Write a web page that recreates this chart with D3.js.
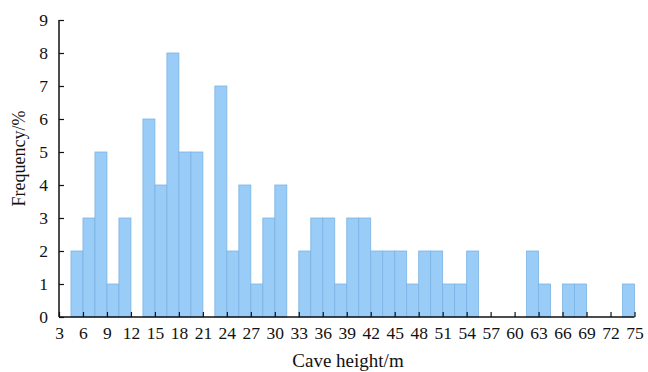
<!DOCTYPE html>
<html>
<head>
<meta charset="utf-8">
<script src="https://cdn.jsdelivr.net/npm/d3@7"></script>
<style>
  body { margin: 0; background: #fff; }
  text { font-family: "Liberation Serif", "DejaVu Serif", serif; fill: #111; }
</style>
</head>
<body>
<div id="chart"></div>
<script>
// bin edges (m) and frequency (%) per 1.5 m bin, starting at 4.5
var binStart = [4.5, 6, 7.5, 9, 10.5, 12, 13.5, 15, 16.5, 18, 19.5, 21, 22.5, 24, 25.5, 27, 28.5, 30,
  31.5, 33, 34.5, 36, 37.5, 39, 40.5, 42, 43.5, 45, 46.5, 48, 49.5, 51, 52.5, 54, 55.5, 57, 58.5, 60,
  61.5, 63, 64.5, 66, 67.5, 69, 70.5, 72, 73.5];
var frequency = [2, 3, 5, 1, 3, 0, 6, 4, 8, 5, 5, 0, 7, 2, 4, 1, 3, 4,
  0, 2, 3, 3, 1, 3, 3, 2, 2, 2, 1, 2, 2, 1, 1, 2, 0, 0, 0, 0,
  2, 1, 0, 1, 1, 0, 0, 0, 1];
var binWidth = 1.5;
var xTicks = d3.range(3, 76, 3);
var yTicks = d3.range(0, 10, 1);

var svgWidth = 648;
var svgHeight = 372;
var margin = { top: 20, right: 13, bottom: 55, left: 59 };
var chartWidth = svgWidth - margin.left - margin.right;
var chartHeight = svgHeight - margin.top - margin.bottom;

var svg = d3.select("#chart")
  .append("svg")
  .attr("width", svgWidth)
  .attr("height", svgHeight);

var chartGroup = svg.append("g")
  .attr("transform", `translate(${margin.left}, ${margin.top})`);

var xScale = d3.scaleLinear()
  .domain([3, 75])
  .range([0, chartWidth - 0.5]);

var yScale = d3.scaleLinear()
  .domain([0, 9])
  .range([chartHeight, 0]);

var bins = binStart.map(function(s, i) {
  return { x0: s, x1: s + binWidth, value: frequency[i] };
}).filter(d => d.value > 0);

chartGroup.selectAll("rect.bar")
  .data(bins)
  .enter()
  .append("rect")
  .attr("class", "bar")
  .attr("x", d => xScale(d.x0))
  .attr("y", d => yScale(d.value))
  .attr("width", d => xScale(d.x1) - xScale(d.x0))
  .attr("height", d => yScale(0) - yScale(d.value))
  .attr("fill", "#99ccf6")
  .attr("stroke", "#7cb3e4")
  .attr("stroke-width", 0.8);

var bottomAxis = d3.axisBottom(xScale)
  .tickValues(xTicks)
  .tickSize(-5)
  .tickPadding(10);

var leftAxis = d3.axisLeft(yScale)
  .tickValues(yTicks)
  .tickSize(-5)
  .tickPadding(11);

var xAxisG = chartGroup.append("g")
  .attr("transform", `translate(0, ${chartHeight})`)
  .call(bottomAxis);

var yAxisG = chartGroup.append("g")
  .call(leftAxis);

[xAxisG, yAxisG].forEach(function(g) {
  g.select(".domain").attr("stroke", "#111").attr("stroke-width", 1.5);
  g.selectAll(".tick line").attr("stroke", "#111").attr("stroke-width", 1.2);
  g.selectAll(".tick text")
    .attr("font-size", 17.5)
    .attr("font-family", "Liberation Serif, serif")
    .attr("fill", "#111");
});

// axes drawn without outer end ticks
xAxisG.select(".domain").attr("d", `M0,0H${chartWidth - 0.5}`);
yAxisG.select(".domain").attr("d", `M0,${chartHeight}V0`);

chartGroup.append("text")
  .attr("transform", "rotate(-90)")
  .attr("x", -(chartHeight / 2) + 10)
  .attr("y", -margin.left + 25)
  .attr("text-anchor", "middle")
  .attr("font-size", 18)
  .text("Frequency/%");

chartGroup.append("text")
  .attr("x", 289)
  .attr("y", chartHeight + 50)
  .attr("text-anchor", "middle")
  .attr("font-size", 19)
  .text("Cave height/m");
</script>
</body>
</html>
